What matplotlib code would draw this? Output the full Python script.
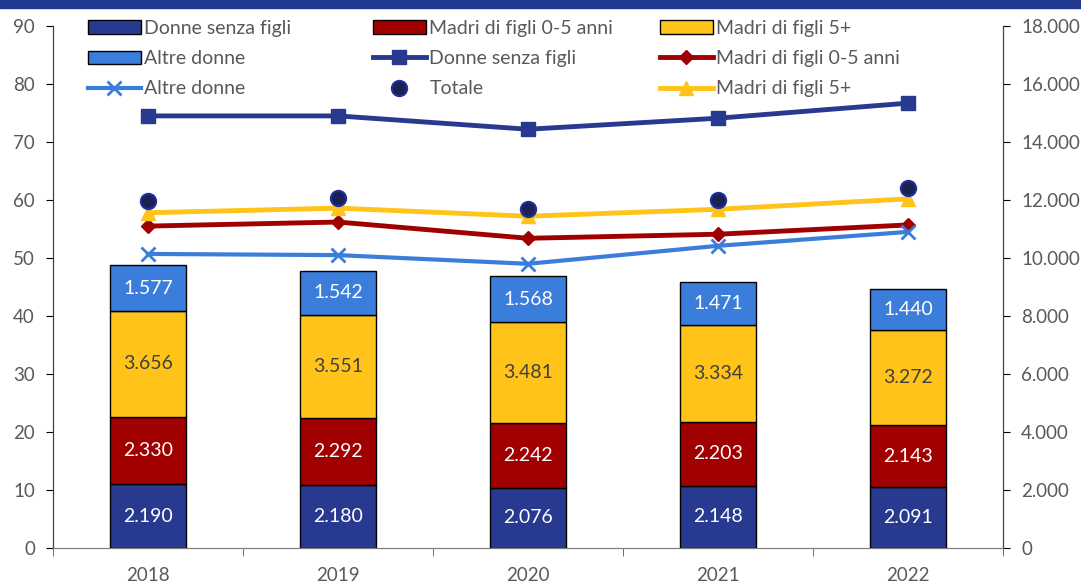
import numpy as np
import matplotlib
matplotlib.use("Agg")
import matplotlib.pyplot as plt
from matplotlib.patches import Rectangle
from matplotlib.ticker import FuncFormatter

plt.rcParams['font.family'] = ['Lato', 'DejaVu Sans']

anni = ['2018', '2019', '2020', '2021', '2022']

# valori assoluti (migliaia) - asse destro
donne_senza_figli = [2190, 2180, 2076, 2148, 2091]
madri_0_5 = [2330, 2292, 2242, 2203, 2143]
madri_5piu = [3656, 3551, 3481, 3334, 3272]
altre_donne = [1577, 1542, 1568, 1471, 1440]

# tassi (%) - asse sinistro
tasso_senza_figli = [74.5, 74.5, 72.2, 74.1, 76.7]
tasso_0_5 = [55.5, 56.2, 53.4, 54.1, 55.7]
tasso_5piu = [57.8, 58.6, 57.2, 58.4, 60.2]
tasso_altre = [50.7, 50.5, 49.0, 52.1, 54.5]
tasso_totale = [59.8, 60.3, 58.4, 60.0, 62.1]

c_blu = '#283A8F'
c_rosso = '#A00000'
c_giallo = '#FFC31A'
c_azzurro = '#3A7DDB'
c_navy = '#1B2152'
c_testo = '#595959'

def fmt_it(v, pos=None):
    return f'{int(v):,}'.replace(',', '.')

fig = plt.figure(figsize=(10.81, 5.84), dpi=100)
ax = fig.add_axes([53/1081, 36/584, 950/1081, 522/584])
ax2 = ax.twinx()

x = np.arange(len(anni))
w = 0.4
bottom = np.zeros(len(anni))
barre = []
for vals, col, lab, tcol in [(donne_senza_figli, c_blu, 'Donne senza figli', 'white'),
                             (madri_0_5, c_rosso, 'Madri di figli 0-5 anni', 'white'),
                             (madri_5piu, c_giallo, 'Madri di figli 5+', '#404040'),
                             (altre_donne, c_azzurro, 'Altre donne', 'white')]:
    b = ax2.bar(x, vals, w, bottom=bottom, color=col, edgecolor='black', linewidth=1, label=lab, zorder=2)
    barre.append(b)
    for xi, v, bt in zip(x, vals, bottom):
        ax2.text(xi, bt + v / 2, fmt_it(v), ha='center', va='center', color=tcol, fontsize=14, zorder=3)
    bottom = bottom + np.array(vals)

# linee sull'asse sinistro: serve disegnarle sopra le barre
ax.set_zorder(ax2.get_zorder() + 1)
ax.patch.set_visible(False)

l_dsf, = ax.plot(x, tasso_senza_figli, color=c_blu, lw=3.5, marker='s', ms=10, label='Donne senza figli')
l_05, = ax.plot(x, tasso_0_5, color=c_rosso, lw=3.5, marker='D', ms=7, label='Madri di figli 0-5 anni')
l_5p, = ax.plot(x, tasso_5piu, color=c_giallo, lw=3.5, marker='^', ms=10, label='Madri di figli 5+')
l_alt, = ax.plot(x, tasso_altre, color=c_azzurro, lw=3, marker='x', ms=10, mew=2, label='Altre donne')
l_tot, = ax.plot(x, tasso_totale, ls='none', marker='o', ms=11, mfc=c_navy, mec='#1F2FA0', mew=1.5, label='Totale')

ax.set_xlim(-0.5, len(anni) - 0.5)
ax.set_ylim(0, 90)
ax.set_yticks(range(0, 91, 10))
ax2.set_ylim(0, 18000)
ax2.set_yticks(range(0, 18001, 2000))
ax2.yaxis.set_major_formatter(FuncFormatter(fmt_it))

ax.set_xticks(x)
ax.set_xticklabels(anni)
ax.set_xticks(np.arange(-0.5, len(anni), 1), minor=True)
ax.tick_params(axis='x', which='major', length=0, pad=14, labelsize=13.5, labelcolor=c_testo)
ax.tick_params(axis='x', which='minor', length=6, color=c_testo, direction='out')
ax.tick_params(axis='y', labelsize=13.5, labelcolor=c_testo, length=5, pad=8)
ax2.tick_params(axis='y', labelsize=13.5, labelcolor=c_testo, length=5, pad=8)

for a in (ax, ax2):
    a.spines['top'].set_visible(False)
    a.spines['bottom'].set_color('#7F7F7F')
    a.spines['left'].set_color('#404040')
    a.spines['right'].set_color('#404040')

# legenda a colonne di larghezza uguale (come in Excel): una legenda per colonna
colonne = [([barre[0], barre[3], l_alt], 88),
           ([barre[1], l_dsf, l_tot], 373),
           ([barre[2], l_05, l_5p], 660)]
for hs, xpx in colonne:
    fig.legend(hs, [h.get_label() for h in hs], loc='upper left',
               bbox_to_anchor=(xpx / 1081, 1 - 20 / 584), frameon=False,
               fontsize=14, labelcolor=c_testo, handlelength=2.7, handletextpad=0.2,
               labelspacing=0.68, borderpad=0, borderaxespad=0)

# fascia del titolo in alto
fig.add_artist(Rectangle((0, 1 - 8/584), 1, 8/584, transform=fig.transFigure, color='#213A8F', zorder=0))

fig.savefig('out.png', dpi=100)
